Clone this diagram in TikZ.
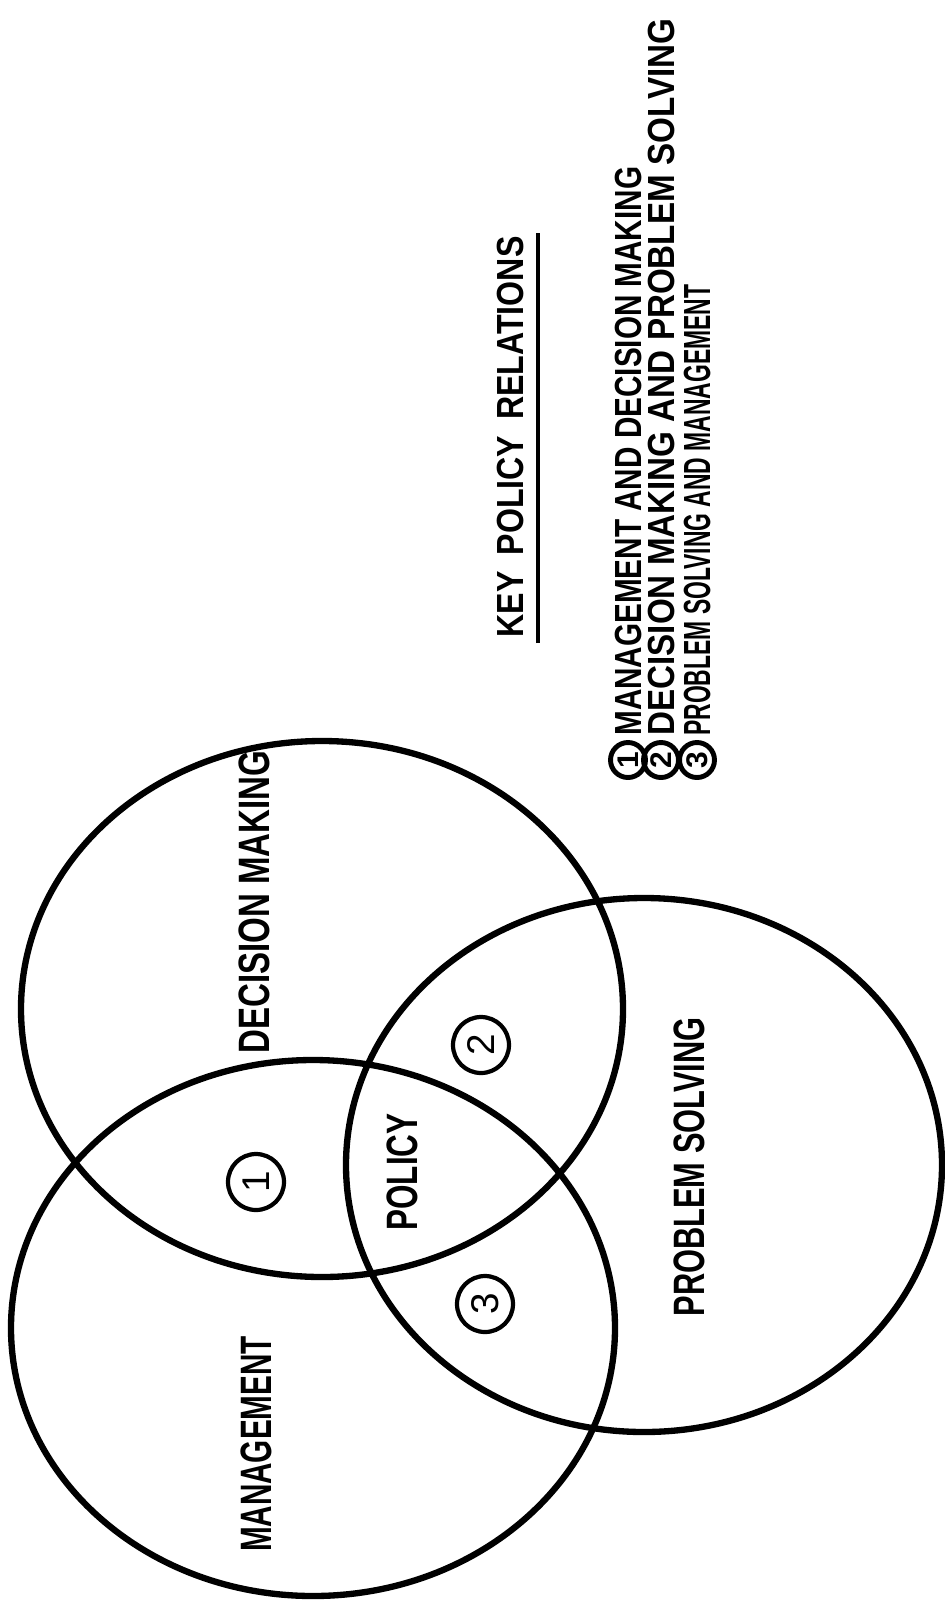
\documentclass[tikz,border=0pt]{standalone}
\usepackage{fontspec}
\setmainfont{Liberation Sans}
\usepackage{graphicx}
\usetikzlibrary{positioning}

% squeeze a label to a given length, keep its height
\newcommand{\fitlen}[2]{\resizebox{#1}{\height}{#2}}

\begin{document}
\begin{tikzpicture}[x=0.02cm, y=-0.02cm,
    ring/.style={line width=3.6pt},
    lbl/.style={rotate=90, inner sep=0pt, font=\bfseries\fontsize{25}{25}\selectfont},
    keytxt/.style={rotate=90, inner sep=0pt, font=\bfseries\fontsize{21.5}{21.5}\selectfont},
    num/.style={circle, draw, line width=2.4pt, minimum size=1.12cm, inner sep=0pt, rotate=90, font=\fontsize{22}{22}\selectfont},
    keynum/.style={circle, draw, line width=2.8pt, minimum size=0.7cm, inner sep=0pt, rotate=90, font=\bfseries\fontsize{17}{17}\selectfont}]
    \useasboundingbox (0,0) rectangle (944,1600);

    % Three overlapping sets
    \draw[ring] (322,1009) ellipse [x radius=301, y radius=268];
    \draw[ring] (313,1328) ellipse [x radius=302, y radius=268];
    \draw[ring] (644,1165) ellipse [x radius=298, y radius=267];

    % Set names
    \node[lbl] (mgmt) at (256,1444) {\fitlen{4.32cm}{MANAGEMENT}};
    \node[lbl] (dm) at (254,902) {\fitlen{6.06cm}{DECISION MAKING}};
    \node[lbl] (policy) at (402,1172) {\fitlen{2.34cm}{POLICY}};
    \node[lbl] (ps) at (689,1167) {\fitlen{5.98cm}{PROBLEM SOLVING}};

    % Pairwise overlaps
    \node[num] (one) at (256,1182) {1};
    \node[num] (two) at (481,1045) {2};
    \node[num] (three) at (485,1304) {3};

    % Key
    \node[keytxt] (keyhead) at (510,437) {\fitlen{8.02cm}{KEY\hspace{0.5em}POLICY\hspace{0.5em}RELATIONS}};
    \coordinate (ulbot) at (538,643);
    \coordinate (ultop) at (538,233);
    \draw[line width=2pt] (ulbot) -- (ultop);

    \foreach \n/\xx/\len/\txt in {1/628/11.38cm/{MANAGEMENT AND DECISION MAKING},
                                  2/661/14.34cm/{DECISION MAKING AND PROBLEM SOLVING},
                                  3/697/9.02cm/{PROBLEM SOLVING AND MANAGEMENT}} {
        \node[keynum] (k\n) at (\xx,760) {\n};
        \node[keytxt, anchor=west] (kt\n) at (\xx,736) {\fitlen{\len}{\txt}};
    }
\end{tikzpicture}
\end{document}
